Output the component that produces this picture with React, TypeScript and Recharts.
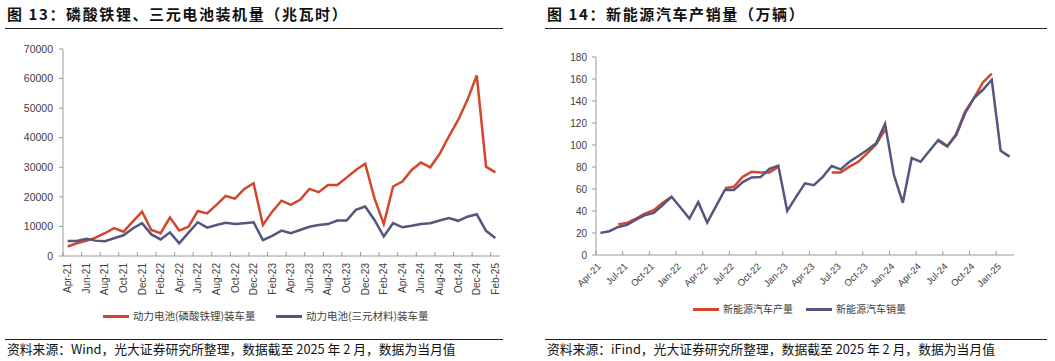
import { LineChart, Line, XAxis, YAxis } from "recharts";

// months Apr-21 .. Feb-25
const months = [
  "Apr-21", "May-21", "Jun-21", "Jul-21", "Aug-21", "Sep-21", "Oct-21", "Nov-21", "Dec-21",
  "Jan-22", "Feb-22", "Mar-22", "Apr-22", "May-22", "Jun-22", "Jul-22", "Aug-22", "Sep-22", "Oct-22", "Nov-22", "Dec-22",
  "Jan-23", "Feb-23", "Mar-23", "Apr-23", "May-23", "Jun-23", "Jul-23", "Aug-23", "Sep-23", "Oct-23", "Nov-23", "Dec-23",
  "Jan-24", "Feb-24", "Mar-24", "Apr-24", "May-24", "Jun-24", "Jul-24", "Aug-24", "Sep-24", "Oct-24", "Nov-24", "Dec-24",
  "Jan-25", "Feb-25",
];

// 图13: 装车量 (MWh)
const lfpInstall = [
  3200, 4300, 5100, 6200, 7700, 9400, 8200, 11600, 15000,
  8800, 7700, 13000, 8600, 9900, 15200, 14400, 17300, 20300, 19400, 22700, 24600,
  10500, 15000, 18700, 17300, 19000, 22700, 21600, 24000, 24000, 26500, 29100, 31200,
  19500, 10800, 23500, 25200, 29100, 31600, 30000, 34500, 40400, 46000, 52800, 61100,
  30200, 28300,
];
const ncmInstall = [
  5100, 5100, 5800, 5200, 5000, 6000, 7000, 9300, 11100,
  7300, 5600, 8000, 4300, 7900, 11400, 9600, 10500, 11200, 10800, 11100, 11400,
  5400, 6800, 8600, 7700, 8800, 9900, 10500, 10800, 12000, 12000, 15600, 16700,
  12200, 6600, 11100, 9700, 10200, 10800, 11100, 12000, 12800, 11900, 13300, 14100,
  8500, 6100,
];

// 图14: 万辆
const nevProduction = [
  null, null, 28.0, 29.2, 33.1, 37.7, 40.7, 47.4, 52.9,
  null, null, null, null, null, 60.8, 62.0, 71.1, 75.7, 75.1, 75.1, 80.3,
  null, null, null, null, null, 75.1, 75.1, 80.3, 84.8, 92.4, 100.6, 113.7,
  null, null, null, null, null, 103.7, 98.5, 110.0, 130.4, 142.6, 156.9, 164.8,
  null, null,
];
const nevSales = [
  20.1, 21.6, 25.5, 27.4, 32.2, 36.2, 38.3, 45.3, 52.9,
  43.2, 33.1, 48.0, 29.5, 44.4, 59.3, 59.0, 66.3, 70.5, 70.8, 78.4, 81.2,
  40.1, 52.9, 65.1, 63.5, 71.1, 80.9, 77.8, 84.8, 90.0, 95.5, 101.5, 119.2,
  72.7, 47.4, 88.2, 84.8, 94.8, 104.6, 99.1, 109.1, 128.9, 142.6, 150.2, 159.3,
  94.8, 89.4,
];

const installTicks = [0, 10000, 20000, 30000, 40000, 50000, 60000, 70000];
const nevTicks = [0, 20, 40, 60, 80, 100, 120, 140, 160, 180];

const RED = "#d4462a";
const PURPLE = "#56557f";
const AXIS = "#999";
const LABEL = "#404040";
const SANS = "'Liberation Sans', Arial, sans-serif";
const CJK = "'Noto Sans CJK SC', sans-serif";

const installData = months.map((m, i) => ({ m, lfp: lfpInstall[i], ncm: ncmInstall[i] }));
const nevData = months.map((m, i) => ({ m, prod: nevProduction[i], sales: nevSales[i] }));

// plot widths / band size
const LEFT_BW = 437 / months.length;
const RIGHT_BW = 418 / months.length;

function LeftTick(props: any) {
  const { x, y, payload } = props;
  const bx = x - LEFT_BW / 2;
  const tx = x + 3.5;
  const ty = y + 7;
  return (
    <g>
      <line x1={bx} y1={y} x2={bx} y2={y - 4} stroke={AXIS} />
      <text x={tx} y={ty} transform={`rotate(-90, ${tx}, ${ty})`} textAnchor="end" fontSize={10} fill={LABEL} fontFamily={SANS}>
        {payload.value}
      </text>
    </g>
  );
}

function RightTick(props: any) {
  const { x, y, payload } = props;
  const bx = x - RIGHT_BW / 2;
  const tx = x + 1;
  const ty = y + 12;
  return (
    <g>
      <line x1={bx} y1={y} x2={bx} y2={y - 4} stroke={AXIS} />
      <text x={tx} y={ty} transform={`rotate(-45, ${tx}, ${ty})`} textAnchor="end" fontSize={9.5} fill={LABEL} fontFamily={SANS}>
        {payload.value}
      </text>
    </g>
  );
}

function Title({ left, width, text }: { left: number; width: number; text: string }) {
  return (
    <>
      <div style={{ position: "absolute", left: left + 2, top: 6, fontFamily: CJK, fontWeight: 700, fontSize: 15, lineHeight: "15px", letterSpacing: 1.6, color: "#111", whiteSpace: "nowrap" }}>
        {text}
      </div>
      <div style={{ position: "absolute", left, top: 28, width, height: 1, background: "#222" }} />
    </>
  );
}

function Source({ left, width, text }: { left: number; width: number; text: string }) {
  return (
    <>
      <div style={{ position: "absolute", left, top: 339, width, height: 1, background: "#222" }} />
      <div style={{ position: "absolute", left: left + 2, top: 342, fontFamily: CJK, fontSize: 12.8, lineHeight: "13px", color: "#111", whiteSpace: "nowrap" }}>
        {text}
      </div>
    </>
  );
}

function LegendItem({ left, top, color, label, size }: { left: number; top: number; color: string; label: string; size: number }) {
  return (
    <div style={{ position: "absolute", left, top, display: "flex", alignItems: "center", whiteSpace: "nowrap" }}>
      <div style={{ width: 26, height: 3, background: color, marginRight: 4 }} />
      <span style={{ fontFamily: CJK, fontSize: size, lineHeight: `${size}px`, color: LABEL }}>{label}</span>
    </div>
  );
}

export default function App() {
  return (
    <div style={{ position: "absolute", left: 0, top: 0, width: 1055, height: 361, background: "#fff", overflow: "hidden" }}>
      <Title left={5} width={498} text="图 13：磷酸铁锂、三元电池装机量（兆瓦时）" />
      <Title left={545} width={502} text="图 14：新能源汽车产销量（万辆）" />

      <div style={{ position: "absolute", left: 0, top: 0 }}>
        <LineChart width={530} height={300} data={installData} margin={{ top: 49, right: 30, left: 3, bottom: 0 }}>
          <XAxis
            dataKey="m"
            interval={1}
            height={44}
            padding={{ left: LEFT_BW / 2, right: LEFT_BW / 2 }}
            tickLine={false}
            tickSize={0}
            tickMargin={0}
            axisLine={{ stroke: AXIS }}
            tick={<LeftTick />}
          />
          <YAxis
            width={60}
            domain={[0, 70000]}
            ticks={installTicks}
            interval={0}
            tickSize={4}
            tickMargin={6}
            axisLine={{ stroke: AXIS }}
            tickLine={{ stroke: AXIS }}
            tick={{ fontSize: 10.5, fill: LABEL, fontFamily: SANS }}
          />
          <Line dataKey="lfp" type="linear" stroke={RED} strokeWidth={2.5} dot={false} isAnimationActive={false} />
          <Line dataKey="ncm" type="linear" stroke={PURPLE} strokeWidth={2.5} dot={false} isAnimationActive={false} />
        </LineChart>
      </div>

      <div style={{ position: "absolute", left: 530, top: 0 }}>
        <LineChart width={525} height={300} data={nevData} margin={{ top: 57, right: 41, left: 6, bottom: 0 }}>
          <XAxis
            dataKey="m"
            interval={2}
            height={45}
            padding={{ left: RIGHT_BW / 2, right: RIGHT_BW / 2 }}
            tickLine={false}
            tickSize={0}
            tickMargin={0}
            axisLine={{ stroke: AXIS }}
            tick={<RightTick />}
          />
          <YAxis
            width={60}
            domain={[0, 180]}
            ticks={nevTicks}
            interval={0}
            tickSize={4}
            tickMargin={5}
            axisLine={{ stroke: AXIS }}
            tickLine={{ stroke: AXIS }}
            tick={{ fontSize: 10, fill: LABEL, fontFamily: SANS }}
          />
          <Line dataKey="prod" type="linear" stroke={RED} strokeWidth={2.5} dot={false} connectNulls={false} isAnimationActive={false} />
          <Line dataKey="sales" type="linear" stroke={PURPLE} strokeWidth={2.5} dot={false} isAnimationActive={false} />
        </LineChart>
      </div>

      <LegendItem left={103} top={311} color={RED} label="动力电池(磷酸铁锂)装车量" size={10.5} />
      <LegendItem left={276} top={311} color={PURPLE} label="动力电池(三元材料)装车量" size={10.5} />
      <LegendItem left={693} top={304} color={RED} label="新能源汽车产量" size={10} />
      <LegendItem left={806} top={304} color={PURPLE} label="新能源汽车销量" size={10} />

      <Source left={5} width={498} text="资料来源：Wind，光大证券研究所整理，数据截至 2025 年 2 月，数据为当月值" />
      <Source left={545} width={502} text="资料来源：iFind，光大证券研究所整理，数据截至 2025 年 2 月，数据为当月值" />
    </div>
  );
}
